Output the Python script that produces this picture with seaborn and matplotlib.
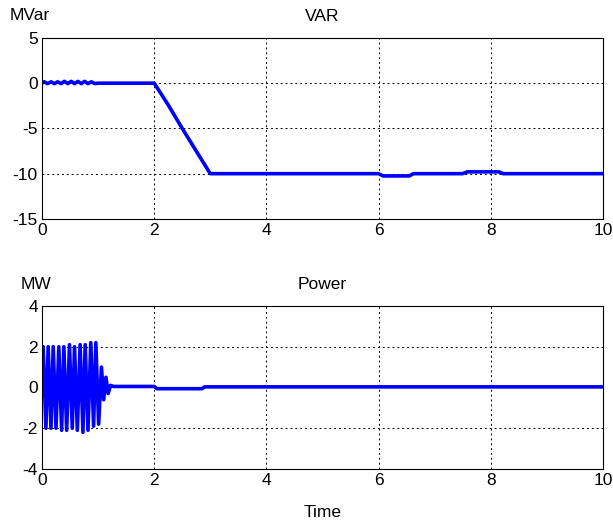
import numpy as np
import matplotlib.pyplot as plt
import pandas as pd
import seaborn as sns

# VAR trace (MVar)
var_t = [0.00, 0.04, 0.10, 0.16, 0.22, 0.28, 0.34, 0.40, 0.46, 0.52, 0.58, 0.64, 0.70,
         0.76, 0.82, 0.88, 0.94, 1.00, 2.00, 2.25, 2.50, 2.75, 3.00, 6.00, 6.08, 6.55,
         6.62, 7.50, 7.58, 8.15, 8.22, 10.00]
var_v = [0.0, 0.15, -0.05, 0.15, -0.05, 0.15, -0.05, 0.2, -0.05, 0.2, -0.05, 0.2, -0.05,
         0.2, -0.05, 0.15, -0.05, 0.0, 0.0, -2.4, -5.0, -7.5, -10.0, -10.0, -10.25, -10.25,
         -10.0, -10.0, -9.8, -9.8, -10.0, -10.0]

# Power trace (MW), extrema of the oscillation
pow_t = [0.00, 0.02, 0.07, 0.11, 0.16, 0.20, 0.25, 0.30, 0.35, 0.39, 0.44, 0.49, 0.54,
         0.58, 0.63, 0.68, 0.73, 0.77, 0.82, 0.87, 0.92, 0.96, 1.01, 1.06, 1.10, 1.14,
         1.18, 1.22, 1.28, 2.00, 2.05, 2.85, 2.90, 10.00]
pow_v = [0.0, 2.0, -2.0, 2.0, -2.0, 2.0, -2.0, 2.0, -2.1, 2.0, -2.1, 2.1, -2.0,
         2.0, -2.1, 2.1, -2.2, 2.1, -2.1, 2.2, -1.9, 2.2, -1.8, 1.0, -0.6, 0.5,
         -0.3, 0.1, 0.05, 0.05, -0.06, -0.06, 0.03, 0.03]

xticks = [0, 2, 4, 6, 8, 10]

sns.set_style("white")
plt.rcParams['font.family'] = ['Liberation Sans', 'DejaVu Sans']
plt.rcParams['font.size'] = 12.5
plt.rcParams['text.color'] = 'black'
plt.rcParams['axes.labelcolor'] = 'black'
plt.rcParams['xtick.color'] = 'black'
plt.rcParams['ytick.color'] = 'black'
plt.rcParams['axes.unicode_minus'] = False

fig = plt.figure(figsize=(6.13, 5.25), dpi=100)
ax1 = fig.add_axes([0.0685, 0.583, 0.915, 0.3448])
ax2 = fig.add_axes([0.0685, 0.1067, 0.915, 0.3105])


def panel(ax, t, v, ylim, yticks, title):
    sns.lineplot(x=t, y=v, ax=ax, color='#0000ff', linewidth=2.6, sort=False)
    ax.set_xlim(0, 10)
    ax.set_ylim(*ylim)
    ax.set_xticks(xticks)
    ax.set_yticks(yticks)
    ax.grid(True, color='black', linestyle=(0, (2, 3)), linewidth=0.7)
    ax.tick_params(direction='in', length=4, labelsize=12.5, pad=3)
    for s in ax.spines.values():
        s.set_color('black')
        s.set_linewidth(0.8)
    ax.set_title(title, fontsize=12.5, pad=12)


panel(ax1, var_t, var_v, (-15, 5), [-15, -10, -5, 0, 5], 'VAR')
panel(ax2, pow_t, pow_v, (-4, 4), [-4, -2, 0, 2, 4], 'Power')
ax2.set_xlabel('Time', fontsize=12.5, labelpad=12)

fig.text(0.016, 0.962, 'MVar', fontsize=12.5)
fig.text(0.034, 0.45, 'MW', fontsize=12.5)

fig.savefig('out.png', dpi=100)
